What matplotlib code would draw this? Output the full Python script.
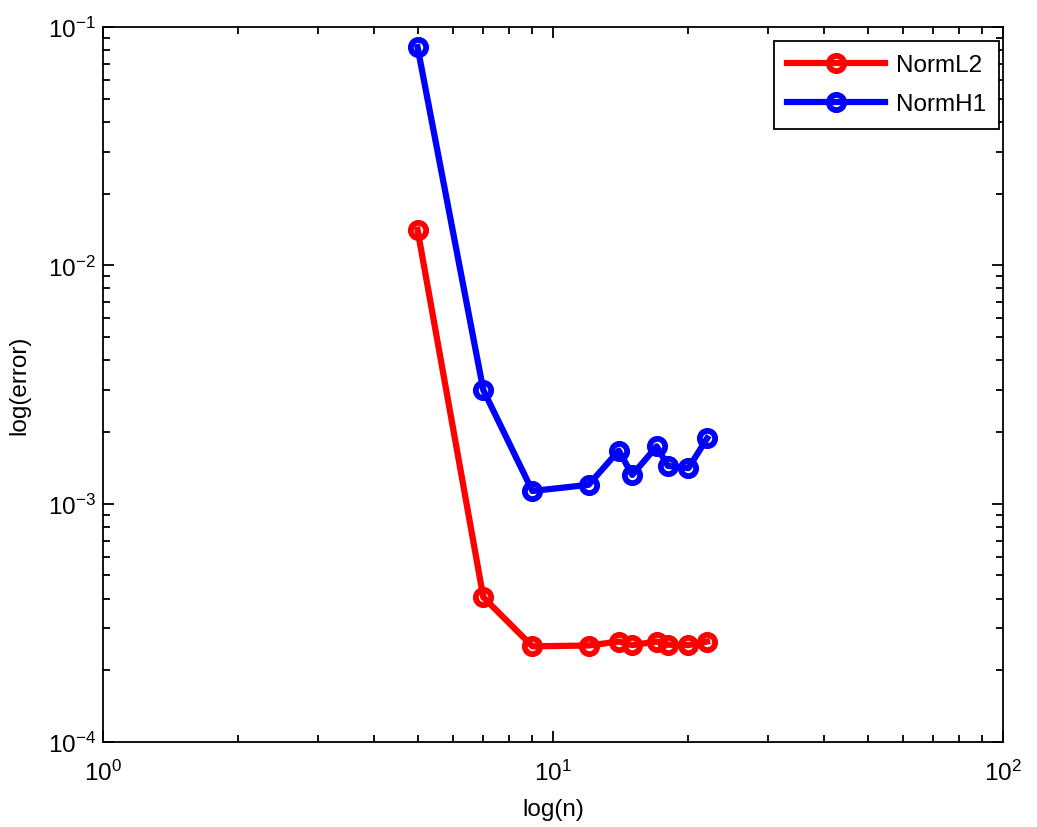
import numpy as np
import matplotlib
matplotlib.use("Agg")
from matplotlib import pyplot as plt
from matplotlib.ticker import LogLocator, NullFormatter

# data
n = [5, 7, 9, 12, 14, 15, 17, 18, 20, 22]
err_l2 = [0.0141, 4.05e-4, 2.52e-4, 2.54e-4, 2.64e-4, 2.55e-4, 2.64e-4, 2.56e-4, 2.55e-4, 2.64e-4]
err_h1 = [0.0824, 0.0030, 0.00113, 0.00120, 0.00167, 0.00132, 0.00174, 0.00144, 0.00141, 0.00188]

plt.rcParams["font.family"] = ["Liberation Sans", "DejaVu Sans"]
plt.rcParams["mathtext.fontset"] = "custom"
plt.rcParams["mathtext.rm"] = "Liberation Sans"
plt.rcParams["mathtext.it"] = "Liberation Sans"

fs = 17.5

fig = plt.figure(figsize=(10.37, 8.28), dpi=100)
ax = fig.add_axes([103 / 1037, 1 - 743 / 828, 900 / 1037, 715 / 828])

style = dict(marker="o", fillstyle="none", markersize=11, markeredgewidth=4.2, linewidth=4.5)
ax.loglog(n, err_l2, color="red", label="NormL2", **style)
ax.loglog(n, err_h1, color="blue", label="NormH1", **style)

ax.set_xlim(1, 100)
ax.set_ylim(1e-4, 1e-1)
ax.xaxis.set_major_locator(LogLocator(base=10, numticks=10))
ax.yaxis.set_major_locator(LogLocator(base=10, numticks=10))
ax.xaxis.set_minor_locator(LogLocator(base=10, subs=np.arange(2, 10), numticks=20))
ax.yaxis.set_minor_locator(LogLocator(base=10, subs=np.arange(2, 10), numticks=20))
ax.xaxis.set_minor_formatter(NullFormatter())
ax.yaxis.set_minor_formatter(NullFormatter())
ax.tick_params(which="both", direction="in", top=True, right=True, labelsize=fs, width=1.3)
ax.tick_params(which="major", length=8)
ax.tick_params(which="minor", length=5)
ax.tick_params(axis="x", pad=13)
ax.tick_params(axis="y", pad=5)
for s in ax.spines.values():
    s.set_linewidth(1.3)

ax.set_xlabel("log(n)", fontsize=fs, labelpad=9)
ax.set_ylabel("log(error)", fontsize=fs, labelpad=13)

leg = ax.legend(loc="upper right", bbox_to_anchor=(0.9956, 0.9804), borderaxespad=0,
                fontsize=fs, fancybox=False, edgecolor="black", framealpha=1,
                handlelength=4.0, handletextpad=0.45, labelspacing=0.7, borderpad=0.55)
leg.get_frame().set_linewidth(1.3)

fig.savefig("out.png", dpi=100)
